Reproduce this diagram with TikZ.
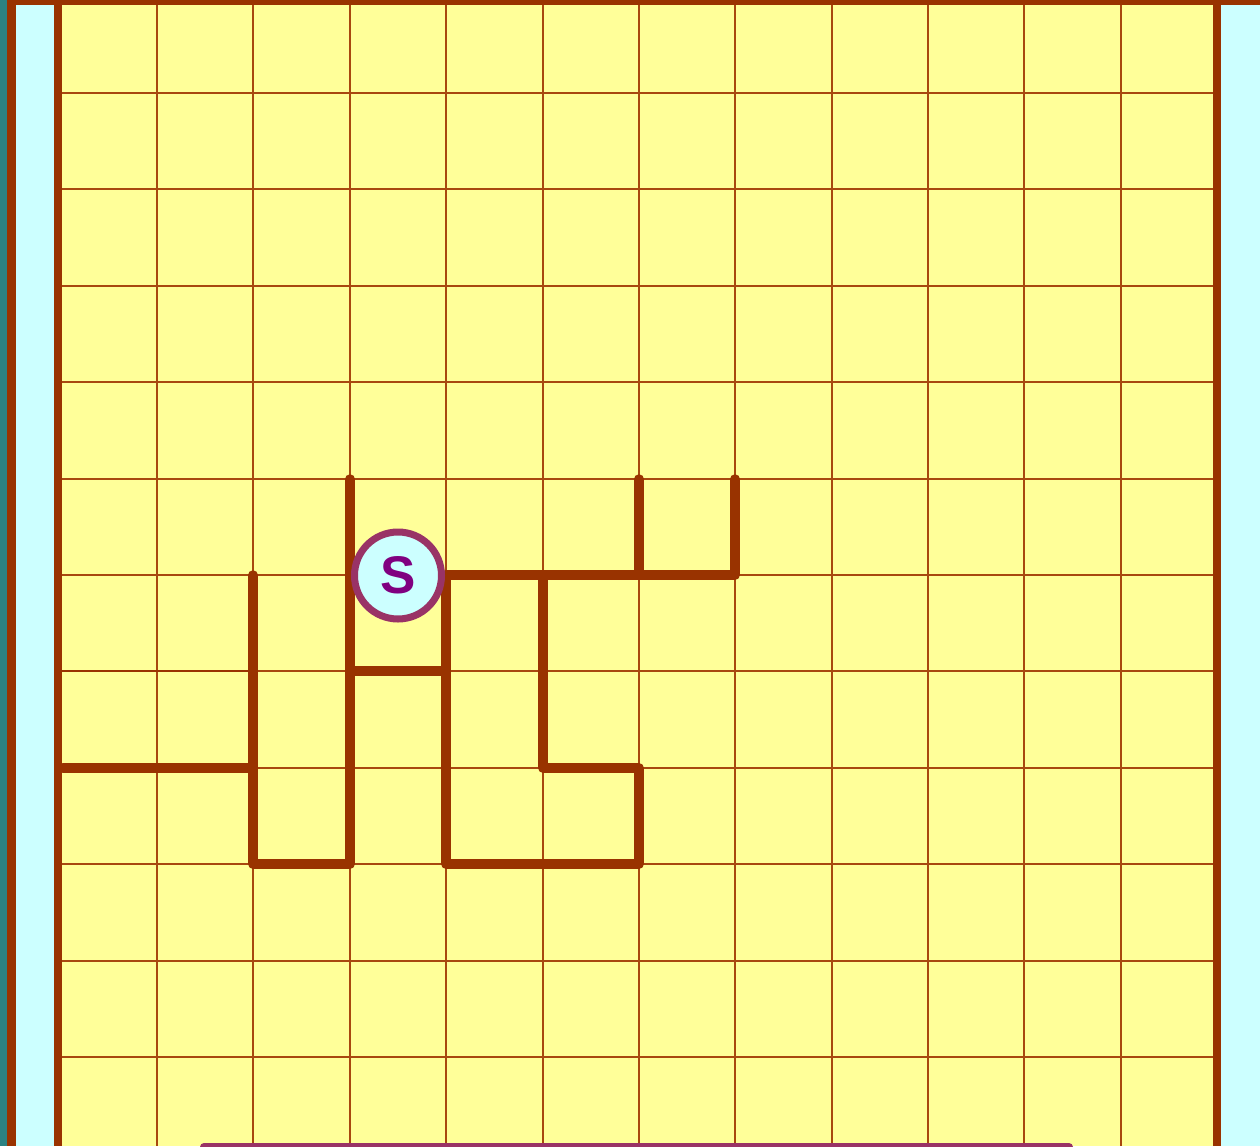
\documentclass[tikz,border=0pt]{standalone}
\usepackage{fontspec}
\setmainfont{Liberation Sans}
\definecolor{wallc}{HTML}{993300}
\definecolor{gridc}{HTML}{A8480F}
\definecolor{bgyellow}{HTML}{FFFF99}
\definecolor{bgcyan}{HTML}{CCFFFF}
\definecolor{edgeteal}{HTML}{2C8282}
\definecolor{ringc}{HTML}{993366}
\definecolor{letterc}{HTML}{800080}
\tikzset{
  gridline/.style={draw=gridc, line width=1.1pt},
  wall/.style={draw=wallc, line width=9.5pt, line cap=round, line join=round},
  midwall/.style={draw=wallc, line width=2.6pt},
  startnode/.style={circle, draw=ringc, fill=bgcyan, line width=7pt, minimum size=87pt, inner sep=0pt,
    text=letterc, font=\fontsize{53}{53}\selectfont\bfseries}
}
\begin{document}
\begin{tikzpicture}[x=1pt,y=-1pt]
\useasboundingbox (0,0) rectangle (1260,1146);
% backgrounds
\fill[edgeteal] (0,0) rectangle (7,1146);
\fill[wallc] (7,0) rectangle (16,1146);
\fill[bgcyan] (16,5) rectangle (54,1146);
\fill[bgcyan] (1221,5) rectangle (1260,1146);
\fill[bgyellow] (62,5) rectangle (1213,1146);
% grid
\foreach \gx in {157,253,350,446,543,639,735,832,928,1024,1121}
  \draw[gridline] (\gx,5) -- (\gx,1146);
\foreach \gy in {93,189,286,382,479,575,671,768,864,961,1057}
  \draw[gridline] (62,\gy) -- (1213,\gy);
% medium line
\draw[midwall] (62,671) -- (253,671);
% maze walls
\draw[wall] (350,479) -- (350,864) -- (253,864) -- (253,575);
\draw[wall] (63,768) -- (253,768);
\draw[wall] (350,671) -- (446,671);
\draw[wall] (446,575) -- (446,864) -- (639,864) -- (639,768) -- (543,768) -- (543,575);
\draw[wall] (446,575) -- (735,575) -- (735,479);
\draw[wall] (639,575) -- (639,479);
% borders
\fill[wallc] (7,0) rectangle (1260,5);
\fill[wallc] (54,0) rectangle (62,1146);
\fill[wallc] (1213,0) rectangle (1221,1146);
% start marker
\node[startnode] (start) at (398,575.5) {S};
% bottom bar (cut off)
\fill[ringc, rounded corners=4pt] (200,1143) rectangle (1073,1170);
\end{tikzpicture}
\end{document}
